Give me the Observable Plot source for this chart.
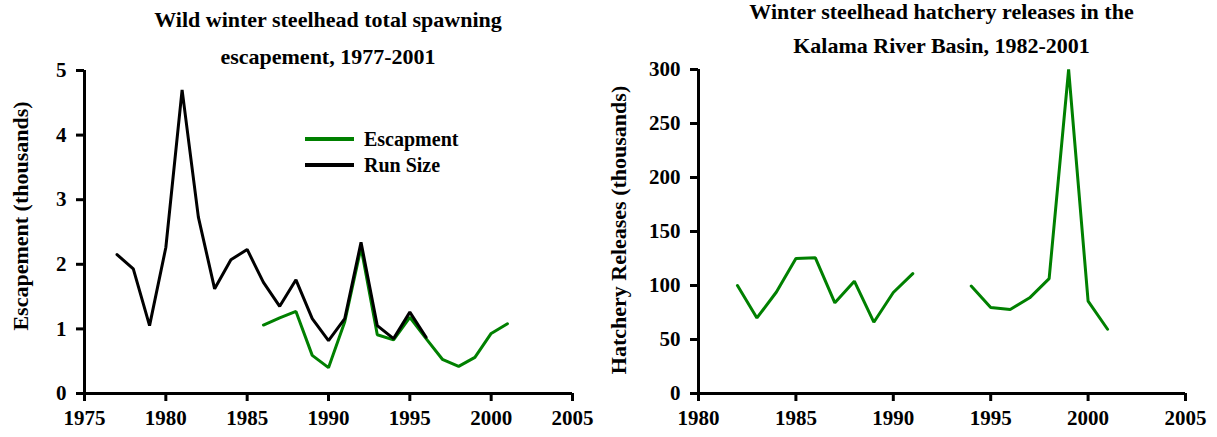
<!DOCTYPE html>
<html>
<head>
<meta charset="utf-8">
<script src="https://cdn.jsdelivr.net/npm/d3@7"></script>
<script src="https://cdn.jsdelivr.net/npm/@observablehq/plot@0.6"></script>
<style>
  html, body { margin: 0; padding: 0; background: #fff; }
  #wrap { position: relative; width: 1217px; height: 437px; overflow: hidden; font-family: "Liberation Serif", "Times New Roman", serif; font-weight: bold; color: #000; }
  .panel { position: absolute; top: 0; }
  .title { position: absolute; text-align: center; font-size: 22px; white-space: nowrap; }
  .ylab { position: absolute; font-size: 22px; white-space: nowrap; transform: translate(-50%, -50%) rotate(-90deg); }
  .legend { position: absolute; font-size: 20px; }
  .legend div { display: flex; align-items: center; height: 26px; }
  .legend span.sw { display: inline-block; width: 49px; height: 4px; margin-right: 10px; }
</style>
</head>
<body>
<div id="wrap">
  <div id="left" class="panel" style="left:0px"></div>
  <div id="right" class="panel" style="left:600px"></div>
  <div class="title" style="left:84px; width:488px; top:1px; line-height:37px;">Wild winter steelhead total spawning<br>escapement, 1977-2001</div>
  <div class="title" style="left:698px; width:487px; top:-5px; line-height:34px;">Winter steelhead hatchery releases in the<br>Kalama River Basin, 1982-2001</div>
  <div class="ylab" style="left:21px; top:216px;">Escapement (thousands)</div>
  <div class="ylab" style="left:619px; top:230px;">Hatchery Releases (thousands)</div>
  <div class="legend" style="left:305px; top:126px;">
    <div><span class="sw" style="background:#008000"></span>Escapment</div>
    <div><span class="sw" style="background:#000"></span>Run Size</div>
  </div>
</div>
<script>
// ---- Data ----
const runYears = [1977,1978,1979,1980,1981,1982,1983,1984,1985,1986,1987,1988,1989,1990,1991,1992,1993,1994,1995,1996];
const runSize  = [2.15,1.93,1.05,2.26,4.70,2.73,1.62,2.07,2.23,1.72,1.35,1.76,1.16,0.82,1.16,2.34,1.05,0.85,1.26,0.87];

const escYears = [1986,1987,1988,1989,1990,1991,1992,1993,1994,1995,1996,1997,1998,1999,2000,2001];
const escapement = [1.06,1.17,1.27,0.59,0.40,1.11,2.26,0.91,0.83,1.18,0.85,0.53,0.42,0.56,0.93,1.08];

const hatchYears = [1982,1983,1984,1985,1986,1987,1988,1989,1990,1991,1992,1993,1994,1995,1996,1997,1998,1999,2000,2001];
const hatchery   = [100,70,94,125,125.6,84,104,66,93.5,111,NaN,NaN,99.5,79.6,77.8,88.6,106.4,300,85.5,59.5];

const leftXTicks = [1975,1980,1985,1990,1995,2000,2005];
const leftYTicks = [0,1,2,3,4,5];
const rightXTicks = [1980,1985,1990,1995,2000,2005];
const rightYTicks = [0,50,100,150,200,250,300];

const runData = runYears.map((y,i)=>({year:y, v:runSize[i]}));
const escData = escYears.map((y,i)=>({year:y, v:escapement[i]}));
const hatchData = hatchYears.map((y,i)=>({year:y, v:hatchery[i]}));

const GREEN = "#008000";
const font = {fontFamily: "Liberation Serif, Times New Roman, serif", fontSize: "21px", fontWeight: "bold", color: "#000", background: "transparent", overflow: "visible"};
const axisStyle = {tickSize: 8, strokeWidth: 3, fontSize: 21, fontWeight: "bold", label: null, tickFormat: d => String(d)};

const left = Plot.plot({
  width: 600, height: 437,
  marginLeft: 84, marginRight: 28, marginTop: 70, marginBottom: 44,
  style: font,
  x: {domain: [1975, 2005]},
  y: {domain: [0, 5]},
  marks: [
    Plot.axisX({...axisStyle, ticks: leftXTicks, tickPadding: 9}),
    Plot.axisY({...axisStyle, ticks: leftYTicks, tickPadding: 10}),
    Plot.ruleY([0], {stroke: "#000", strokeWidth: 3}),
    Plot.ruleX([1975], {stroke: "#000", strokeWidth: 3}),
    Plot.line(escData, {x: "year", y: "v", stroke: GREEN, strokeWidth: 3, strokeLinejoin: "miter"}),
    Plot.line(runData, {x: "year", y: "v", stroke: "#000", strokeWidth: 3, strokeLinejoin: "miter"})
  ]
});
document.getElementById("left").appendChild(left);

const right = Plot.plot({
  width: 617, height: 437,
  marginLeft: 98, marginRight: 32, marginTop: 69, marginBottom: 44,
  style: font,
  x: {domain: [1980, 2005]},
  y: {domain: [0, 300]},
  marks: [
    Plot.axisX({...axisStyle, ticks: rightXTicks, tickPadding: 9}),
    Plot.axisY({...axisStyle, ticks: rightYTicks, tickPadding: 10}),
    Plot.ruleY([0], {stroke: "#000", strokeWidth: 3}),
    Plot.ruleX([1980], {stroke: "#000", strokeWidth: 3}),
    Plot.line(hatchData, {x: "year", y: "v", stroke: GREEN, strokeWidth: 3, strokeLinejoin: "miter"})
  ]
});
document.getElementById("right").appendChild(right);
</script>
</body>
</html>
